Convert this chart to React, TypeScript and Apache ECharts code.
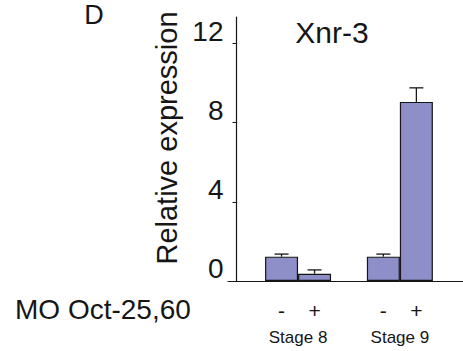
import React, { useEffect, useRef } from "react";
import * as echarts from "echarts";

const stages = ["Stage 8", "Stage 9"];
const treatments = ["-", "+"];
const valuesMinus = [1.23, 1.23];
const valuesPlus = [0.37, 9.05];
const errTopMinus = [1.36, 1.36];
const errTopPlus = [0.56, 9.76];
const yTicks = [0, 4, 8, 12];

const FONT = "'Liberation Sans', Arial, sans-serif";
const INK = "#161616";
const BAR = "#8e8ec8";
const BAR_W = 33;

export default function App() {
  const ref = useRef<HTMLDivElement>(null);
  useEffect(() => {
    if (!ref.current) return;
    const chart = echarts.init(ref.current, null, { renderer: "svg" });
    const errSeries = (tops: number[], vals: number[], dx: number) => ({
      type: "custom",
      renderItem: (params: any, api: any) => {
        const x = api.value(0);
        const p1 = api.coord([x, api.value(1)]);
        const p2 = api.coord([x, api.value(2)]);
        const cx = p1[0] + dx;
        const st = { stroke: INK, lineWidth: 1.3 };
        return {
          type: "group",
          children: [
            { type: "line", shape: { x1: cx, y1: p1[1], x2: cx, y2: p2[1] }, style: st },
            { type: "line", shape: { x1: cx - 7, y1: p2[1], x2: cx + 7, y2: p2[1] }, style: st },
          ],
        };
      },
      encode: { x: 0, y: 2 },
      data: tops.map((t, i) => [i, vals[i], t]),
      z: 3,
    });
    const barSeries = (name: string, vals: number[]) => ({
      type: "bar",
      name,
      barWidth: BAR_W,
      barGap: 0,
      data: vals.map((v, i) => [i, v]),
      itemStyle: { color: BAR, borderColor: INK, borderWidth: 1.2 },
      label: {
        show: true,
        position: "bottom",
        distance: 19,
        formatter: () => name,
        fontSize: 21,
        color: INK,
        fontFamily: FONT,
      },
    });
    chart.setOption({
      animation: false,
      backgroundColor: "#ffffff",
      grid: { left: 228, right: 0, top: 17, bottom: 70 },
      xAxis: {
        type: "value",
        min: -0.688,
        max: 1.62,
        axisLine: { lineStyle: { color: INK, width: 1.2 }, onZero: false },
        axisTick: { show: false },
        splitLine: { show: false },
        axisLabel: {
          customValues: [0, 1],
          formatter: (v: number) => stages[Math.round(v)] ?? "",
          margin: 48,
          fontSize: 17,
          color: INK,
          fontFamily: FONT,
        },
      },
      yAxis: {
        type: "value",
        min: 0,
        max: 13.34,
        offset: -8.5,
        name: "Relative expression",
        nameLocation: "middle",
        nameRotate: 90,
        nameGap: 47,
        nameTextStyle: { fontSize: 29, color: INK, fontFamily: FONT, padding: [0, 0, 0, 22] },
        axisLine: { show: true, onZero: false, lineStyle: { color: INK, width: 1.2 } },
        axisTick: { show: true, customValues: yTicks, length: 4, lineStyle: { color: INK } },
        splitLine: { show: false },
        axisLabel: {
          customValues: yTicks,
          formatter: (v: number) => (yTicks.includes(v) ? String(v) : ""),
          margin: 13,
          fontSize: 28,
          color: INK,
          fontFamily: FONT,
          verticalAlign: "bottom",
          lineHeight: 25,
        },
      },
      graphic: [
        {
          type: "text",
          x: 94,
          y: 15,
          style: { text: "D", fontSize: 27, fill: INK, fontFamily: FONT, align: "center", verticalAlign: "middle" },
        },
        {
          type: "text",
          x: 332,
          y: 32,
          style: { text: "Xnr-3", fontSize: 30, fill: INK, fontFamily: FONT, align: "center", verticalAlign: "middle" },
        },
        {
          type: "text",
          x: 15,
          y: 309,
          style: { text: "MO Oct-25,60", fontSize: 28, fill: INK, fontFamily: FONT, verticalAlign: "middle" },
        },
      ],
      series: [
        barSeries(treatments[0], valuesMinus),
        barSeries(treatments[1], valuesPlus),
        errSeries(errTopMinus, valuesMinus, -BAR_W / 2),
        errSeries(errTopPlus, valuesPlus, BAR_W / 2),
      ],
    });
    return () => chart.dispose();
  }, []);
  return (
    <div
      ref={ref}
      style={{ position: "fixed", left: 0, top: 0, width: 463, height: 351, background: "#fff" }}
    />
  );
}
